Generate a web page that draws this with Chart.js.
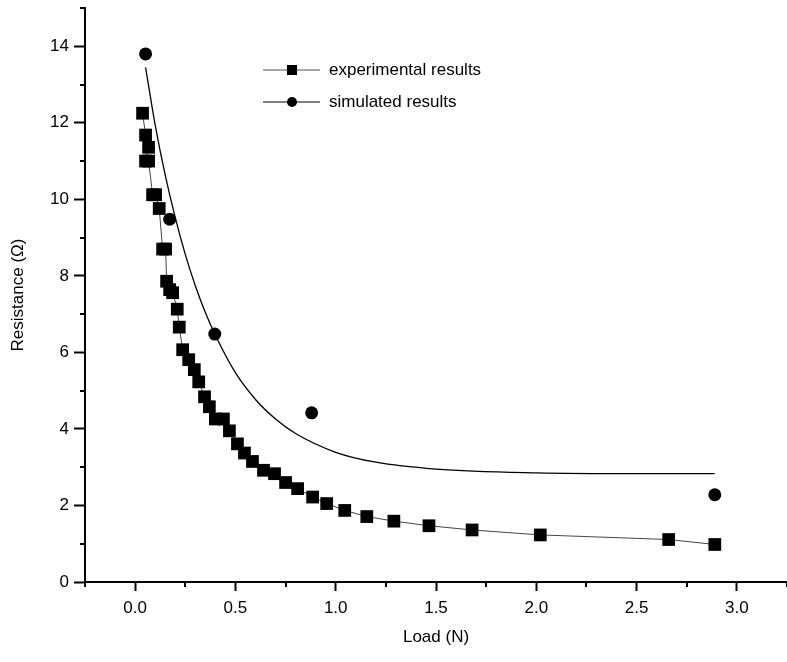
<!DOCTYPE html>
<html lang="en">
<head>
<meta charset="UTF-8">
<title>Resistance vs Load</title>
<script src="https://cdn.jsdelivr.net/npm/chart.js"></script>
<style>
    body {
        margin: 0;
        padding: 0;
        background: #fff;
    }
    #wrap {
        width: 787px;
        height: 662px;
    }
</style>
</head>
<body>
<div id="wrap"><canvas id="chart" width="787" height="662"></canvas></div>
<script>
// experimental results: load (N) / resistance (ohm)
const expLoad = [0.037, 0.052, 0.067, 0.052, 0.067, 0.087, 0.102, 0.12, 0.137, 0.152,
    0.157, 0.172, 0.187, 0.21, 0.22, 0.237, 0.267, 0.295, 0.317, 0.346,
    0.37, 0.40, 0.44, 0.47, 0.51, 0.545, 0.585, 0.64, 0.695, 0.75,
    0.81, 0.885, 0.955, 1.045, 1.155, 1.29, 1.465, 1.68, 2.02, 2.66, 2.89];
const expRes = [12.25, 11.68, 11.36, 11.0, 11.0, 10.12, 10.12, 9.76, 8.7, 8.7,
    7.86, 7.64, 7.56, 7.13, 6.66, 6.07, 5.81, 5.55, 5.23, 4.84,
    4.58, 4.26, 4.26, 3.95, 3.61, 3.37, 3.15, 2.92, 2.83, 2.6,
    2.44, 2.22, 2.05, 1.87, 1.71, 1.59, 1.47, 1.36, 1.23, 1.11, 0.98];

// simulated results
const simLoad = [0.052, 0.172, 0.397, 0.88, 2.89];
const simRes = [13.8, 9.48, 6.48, 4.42, 2.28];

// smooth curve through the simulated results
const fitLoad = [0.052, 0.10, 0.15, 0.20, 0.25, 0.30, 0.35, 0.40, 0.50, 0.60,
    0.70, 0.80, 1.00, 1.20, 1.50, 2.00, 2.50, 2.89];
const fitRes = [13.45, 11.94, 10.63, 9.52, 8.56, 7.74, 7.04, 6.45, 5.47, 4.77,
    4.26, 3.88, 3.39, 3.13, 2.95, 2.85, 2.83, 2.83];

// labelled ticks and the short ticks between them
const xTicks = [0, 0.5, 1.0, 1.5, 2.0, 2.5, 3.0];
const yTicks = [0, 2, 4, 6, 8, 10, 12, 14];
const xMinor = [-0.25, 0.25, 0.75, 1.25, 1.75, 2.25, 2.75, 3.25];
const yMinor = [1, 3, 5, 7, 9, 11, 13, 15];

const legendRows = [
    { text: 'experimental results', style: 'rect', line: '#555' },
    { text: 'simulated results', style: 'circle', line: '#000' }
];

const font = { family: '"Liberation Sans", Arial, sans-serif', size: 17 };

function pairs(xs, ys) {
    return xs.map((x, i) => ({ x: x, y: ys[i] }));
}

const minorTicks = {
    id: 'minorTicks',
    afterDraw(chart) {
        const ctx = chart.ctx;
        const xs = chart.scales.x, ys = chart.scales.y;
        ctx.save();
        ctx.strokeStyle = '#000';
        ctx.lineWidth = 2;
        ctx.beginPath();
        xMinor.forEach(v => {
            const px = Math.round(xs.getPixelForValue(v));
            ctx.moveTo(px, xs.top);
            ctx.lineTo(px, xs.top + 5);
        });
        yMinor.forEach(v => {
            const py = Math.round(ys.getPixelForValue(v));
            ctx.moveTo(ys.right, py);
            ctx.lineTo(ys.right - 5, py);
        });
        ctx.stroke();
        ctx.restore();
    }
};

// legend inside the plot, symbol with a line on both sides
const innerLegend = {
    id: 'innerLegend',
    afterDraw(chart) {
        const ctx = chart.ctx;
        const rowsY = [70, 102];
        ctx.save();
        legendRows.forEach((row, i) => {
            const y = rowsY[i];
            ctx.strokeStyle = row.line;
            ctx.lineWidth = 1.2;
            ctx.beginPath();
            ctx.moveTo(263, y);
            ctx.lineTo(320, y);
            ctx.stroke();
            ctx.fillStyle = '#000';
            ctx.beginPath();
            if (row.style === 'rect') {
                ctx.rect(287, y - 5, 10, 10);
            } else {
                ctx.arc(292, y, 5, 0, Math.PI * 2);
            }
            ctx.fill();
            ctx.font = '17px ' + font.family;
            ctx.textBaseline = 'middle';
            ctx.fillText(row.text, 329, y);
        });
        ctx.restore();
    }
};

new Chart(document.getElementById('chart'), {
    type: 'scatter',
    data: {
        datasets: [
            {
                label: 'fit',
                data: pairs(fitLoad, fitRes),
                showLine: true,
                borderColor: '#000',
                borderWidth: 1.3,
                pointRadius: 0,
                cubicInterpolationMode: 'monotone'
            },
            {
                label: 'experimental results',
                data: pairs(expLoad, expRes),
                showLine: true,
                borderColor: '#444',
                borderWidth: 1,
                pointStyle: 'rect',
                pointRadius: 9,
                pointBorderWidth: 0,
                pointBackgroundColor: '#000'
            },
            {
                label: 'simulated results',
                data: pairs(simLoad, simRes),
                showLine: false,
                pointStyle: 'circle',
                pointRadius: 6.5,
                pointBorderWidth: 0,
                pointBackgroundColor: '#000'
            }
        ]
    },
    options: {
        responsive: false,
        animation: false,
        devicePixelRatio: 1,
        layout: { autoPadding: false, padding: { top: 8, right: 0, left: 0, bottom: 0 } },
        plugins: {
            legend: { display: false },
            tooltip: { enabled: false }
        },
        scales: {
            x: {
                type: 'linear',
                min: -0.25,
                max: 3.25,
                afterBuildTicks: s => { s.ticks = xTicks.map(v => ({ value: v })); },
                afterFit: s => { s.height = 80; s.paddingLeft = 0; s.paddingRight = 0; },
                border: { color: '#000', width: 2 },
                grid: { drawOnChartArea: false, tickLength: 9, tickWidth: 2, color: '#000' },
                ticks: {
                    autoSkip: false,
                    maxRotation: 0,
                    color: '#000',
                    font: font,
                    padding: 7,
                    callback: v => v.toFixed(1)
                },
                title: {
                    display: true,
                    text: 'Load (N)',
                    color: '#000',
                    font: font,
                    padding: { top: 0, bottom: 14 }
                }
            },
            y: {
                type: 'linear',
                min: 0,
                max: 15,
                afterBuildTicks: s => { s.ticks = yTicks.map(v => ({ value: v })); },
                afterFit: s => { s.width = 85; s.paddingTop = 0; s.paddingBottom = 0; },
                border: { color: '#000', width: 2 },
                grid: { drawOnChartArea: false, tickLength: 11, tickWidth: 2, color: '#000' },
                ticks: {
                    autoSkip: false,
                    color: '#000',
                    font: font,
                    padding: 5,
                    callback: v => String(v)
                },
                title: {
                    display: true,
                    text: 'Resistance (Ω)',
                    color: '#000',
                    font: font,
                    padding: { top: 8, bottom: 0 }
                }
            }
        }
    },
    plugins: [minorTicks, innerLegend]
});
</script>
</body>
</html>
